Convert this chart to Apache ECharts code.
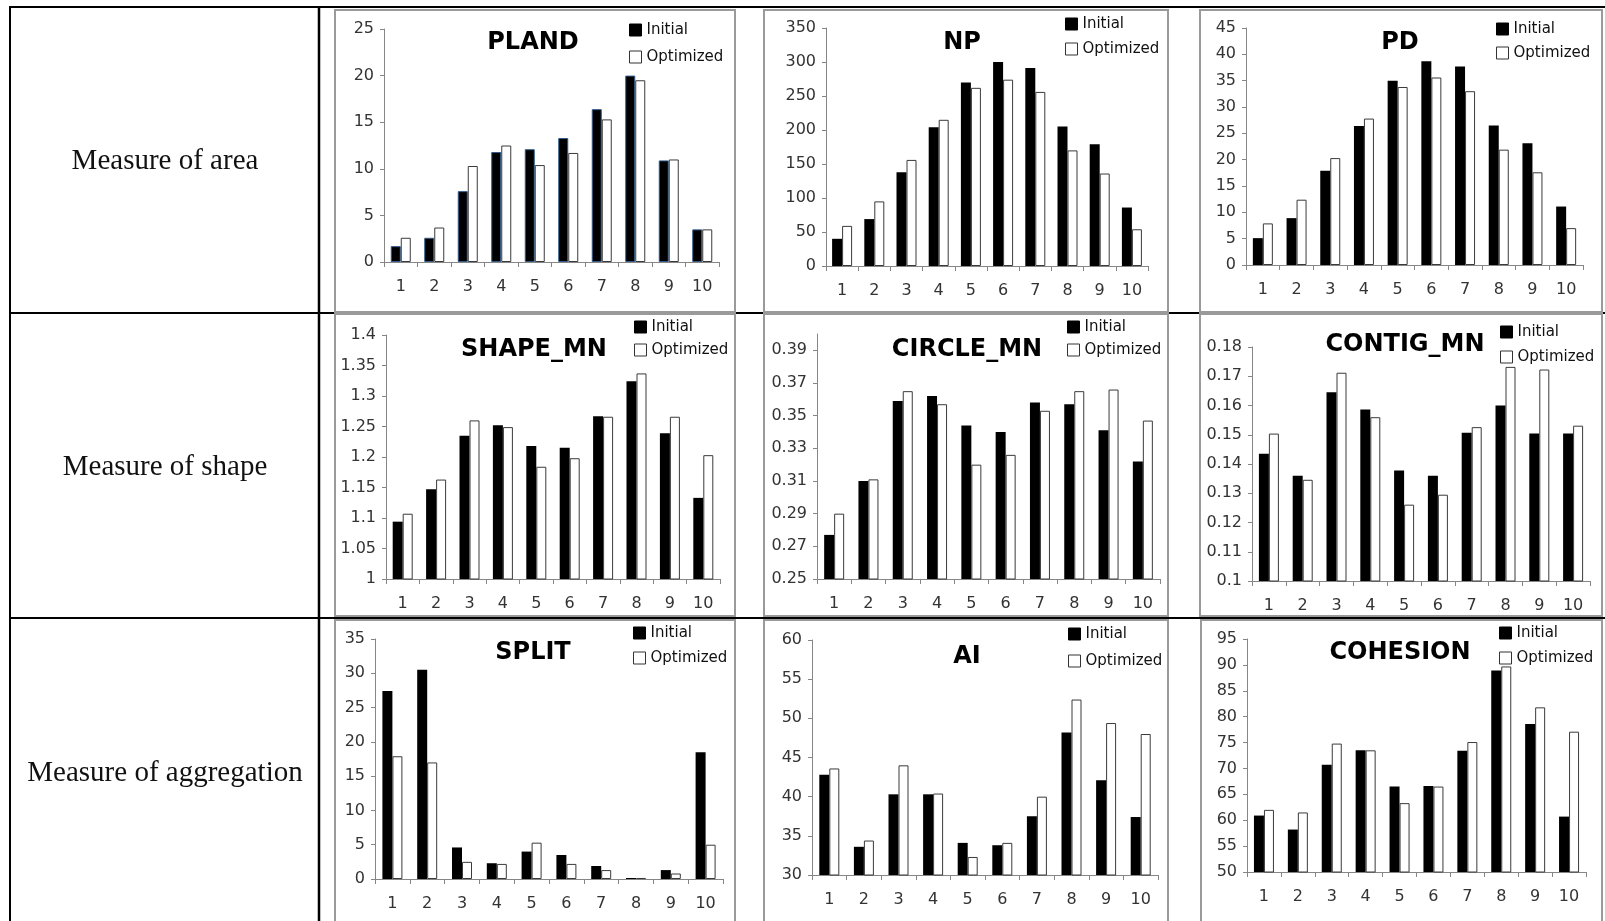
<!DOCTYPE html>
<html><head><meta charset="utf-8">
<script src="https://cdn.jsdelivr.net/npm/echarts@6/dist/echarts.min.js"></script>
<style>html,body{margin:0;padding:0;background:#fff;}#c{width:1605px;height:921px;}</style>
</head><body><div id="c"></div>
<script>
// ---------- DATA ----------
const categories = ['1','2','3','4','5','6','7','8','9','10'];
const seriesNames = ['Initial','Optimized'];
const rowLabels = ['Measure of area','Measure of shape','Measure of aggregation'];
const chartTitles = ['PLAND','NP','PD','SHAPE_MN','CIRCLE_MN','CONTIG_MN','SPLIT','AI','COHESION'];

const plandInitial   = [1.7, 2.6, 7.6, 11.8, 12.1, 13.3, 16.4, 20.0, 10.9, 3.5];
const plandOptimized = [2.6, 3.7, 10.3, 12.5, 10.4, 11.7, 15.3, 19.5, 11.0, 3.5];

const npInitial   = [40, 69, 138, 204, 270, 300, 291, 205, 179, 86];
const npOptimized = [59, 95, 156, 215, 262, 274, 256, 170, 136, 54];

const pdInitial   = [5.1, 8.9, 17.9, 26.4, 35.0, 38.7, 37.7, 26.5, 23.1, 11.1];
const pdOptimized = [7.9, 12.4, 20.3, 27.8, 33.8, 35.6, 33.0, 21.9, 17.6, 7.0];

const shapeInitial   = [1.094, 1.147, 1.235, 1.252, 1.218, 1.215, 1.267, 1.324, 1.239, 1.133];
const shapeOptimized = [1.107, 1.163, 1.260, 1.249, 1.184, 1.198, 1.266, 1.337, 1.266, 1.203];

const circleInitial   = [0.277, 0.310, 0.359, 0.362, 0.344, 0.340, 0.358, 0.357, 0.341, 0.322];
const circleOptimized = [0.290, 0.311, 0.365, 0.357, 0.320, 0.326, 0.353, 0.365, 0.366, 0.347];

const contigInitial   = [0.1435, 0.136, 0.1645, 0.1586, 0.1378, 0.136, 0.1507, 0.160, 0.1504, 0.1504];
const contigOptimized = [0.1504, 0.1346, 0.1712, 0.156, 0.1261, 0.1295, 0.1526, 0.1732, 0.1723, 0.1531];

const splitInitial   = [27.4, 30.5, 4.6, 2.3, 4.0, 3.5, 1.9, 0.15, 1.3, 18.5];
const splitOptimized = [17.9, 17.0, 2.5, 2.2, 5.3, 2.2, 1.3, 0.15, 0.8, 5.0];

const aiInitial   = [42.8, 33.6, 40.3, 40.3, 34.1, 33.8, 37.5, 48.2, 42.1, 37.4];
const aiOptimized = [43.6, 34.4, 44.0, 40.4, 32.3, 34.1, 40.0, 52.4, 49.4, 48.0];

const cohesionInitial   = [60.9, 58.2, 70.7, 73.5, 66.5, 66.6, 73.4, 88.9, 78.6, 60.7];
const cohesionOptimized = [62.0, 61.5, 74.8, 73.5, 63.3, 66.5, 75.1, 89.7, 81.8, 77.1];

// y-axis ranges [min, max, interval]
const yRanges = [
  [0, 25, 5], [0, 350, 50], [0, 45, 5],
  [1, 1.4, 0.05], [0.25, 0.40, 0.02], [0.1, 0.18, 0.01],
  [0, 35, 5], [30, 60, 5], [50, 95, 5]
];
const initialData = [plandInitial, npInitial, pdInitial, shapeInitial, circleInitial, contigInitial, splitInitial, aiInitial, cohesionInitial];
const optimizedData = [plandOptimized, npOptimized, pdOptimized, shapeOptimized, circleOptimized, contigOptimized, splitOptimized, aiOptimized, cohesionOptimized];

// ---------- LAYOUT ----------
const layout = [
  {frame:[335,10,400,302], grid:[384,29,719,262], title:[533,43], leg:[629,30,57]},
  {frame:[764,10,404,302], grid:[826,28,1148,266], title:[962,43], leg:[1065,24,49]},
  {frame:[1200,10,402,302], grid:[1246,28,1583,265], title:[1400,43], leg:[1496,29,53]},
  {frame:[335,314,400,302], grid:[386,335,720,579], title:[534,350], leg:[634,327,350]},
  {frame:[764,314,404,302], grid:[817,334,1160,579], title:[967,350], leg:[1067,327,350], hideMax:true},
  {frame:[1200,314,402,302], grid:[1252,347,1590,581], title:[1405,345], leg:[1500,332,357]},
  {frame:[335,620,400,310], grid:[375,639,723,879], title:[533,653], leg:[633,633,658]},
  {frame:[764,620,404,310], grid:[812,640,1158,875], title:[967,657], leg:[1068,634,661]},
  {frame:[1201,620,401,310], grid:[1247,639,1586,872], title:[1400,653], leg:[1499,633,658]}
];
const rowLabelPos = [[165,161],[165,467],[165,773]];

const AXIS_COLOR = '#868686';
const LABEL_FONT = 'DejaVu Sans';

const grids=[], xAxes=[], yAxes=[], series=[], legends=[], graphics=[];

// table lines
const tableLines = [
  [10,7,1605,7,2],[10,313,1605,313,2],[10,618,1605,618,2],
  [10,6,10,921,2],[319,6,319,921,2.5]
];
tableLines.forEach(l=>graphics.push({type:'line',z:-2,silent:true,
  shape:{x1:l[0],y1:l[1],x2:l[2],y2:l[3]},style:{stroke:'#000',lineWidth:l[4]}}));

rowLabels.forEach((t,i)=>graphics.push({type:'text',z:1,x:rowLabelPos[i][0],y:rowLabelPos[i][1],
  style:{text:t,fontSize:29,fontFamily:'Liberation Serif',fill:'#111',
    align:'center',verticalAlign:'middle',textAlign:'center',textVerticalAlign:'middle'}}));

layout.forEach((p,i)=>{
  const [gx0,gy0,gx1,gy1]=p.grid;
  grids.push({left:gx0,top:gy0,width:gx1-gx0,height:gy1-gy0,containLabel:false});
  xAxes.push({gridIndex:i,type:'category',data:categories,
    axisLine:{show:true,lineStyle:{color:AXIS_COLOR,width:1}},
    axisTick:{show:true,length:5,lineStyle:{color:AXIS_COLOR}},
    axisLabel:{color:'#333',fontSize:16,fontFamily:LABEL_FONT,margin:17},
    splitLine:{show:false}});
  const yr=yRanges[i];
  yAxes.push({gridIndex:i,type:'value',min:yr[0],max:yr[1],interval:yr[2],
    axisLine:{show:true,lineStyle:{color:AXIS_COLOR,width:1}},
    axisTick:{show:true,length:4,lineStyle:{color:AXIS_COLOR}},
    axisLabel:{color:'#333',fontSize:16,fontFamily:LABEL_FONT,margin:10,showMaxLabel:!p.hideMax},
    splitLine:{show:false}});
  series.push({type:'bar',name:seriesNames[0],xAxisIndex:i,yAxisIndex:i,data:initialData[i],
    barWidth:10,barGap:'0%',itemStyle:{color:'#000',borderColor:i===0?'#2f5a8a':'#000',borderWidth:i===0?1:0}});
  series.push({type:'bar',name:seriesNames[1],xAxisIndex:i,yAxisIndex:i,data:optimizedData[i],
    barWidth:10,barGap:'0%',itemStyle:{color:'#fff',borderColor:'#3a3a3a',borderWidth:1}});
  const gap=p.leg[2]-p.leg[1];
  legends.push({orient:'vertical',left:p.leg[0],top:p.leg[1]-8,padding:0,itemWidth:12,itemHeight:12,
    itemGap:gap-16,icon:'rect',selectedMode:false,
    data:[
      {name:seriesNames[0],itemStyle:{color:'#000',borderColor:'#000',borderWidth:1}},
      {name:seriesNames[1],itemStyle:{color:'#fff',borderColor:'#333',borderWidth:1}}
    ],
    textStyle:{fontSize:15,fontFamily:LABEL_FONT,color:'#111',lineHeight:16}});
  const f=p.frame;
  graphics.push({type:'rect',z:-1,silent:true,shape:{x:f[0],y:f[1],width:f[2],height:f[3]},
    style:{fill:'#fff',stroke:'#9a9a9a',lineWidth:2}});
  graphics.push({type:'text',z:1,x:p.title[0],y:p.title[1],
    style:{text:chartTitles[i],fontSize:24,fontWeight:'bold',fontFamily:'DejaVu Sans',fill:'#000',
      align:'center',verticalAlign:'middle',textAlign:'center',textVerticalAlign:'middle'}});
});

const chart = echarts.init(document.getElementById('c'),null,{renderer:'canvas'});
chart.setOption({
  backgroundColor:'#fff',
  animation:false,
  grid:grids, xAxis:xAxes, yAxis:yAxes, series:series, legend:legends,
  graphic:{elements:graphics}
});
</script></body></html>
